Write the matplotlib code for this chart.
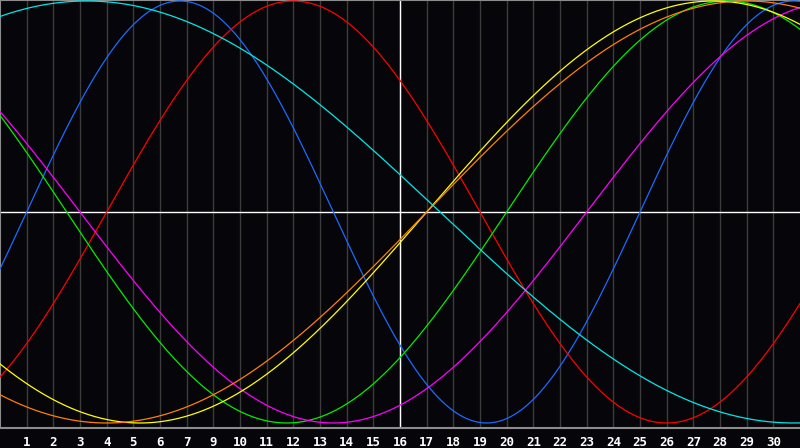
import numpy as np
import matplotlib
matplotlib.use("Agg")
import matplotlib.pyplot as plt

# biorhythm cycles: period in days and position in cycle at the left edge
cycles = ["physical", "emotional", "intellectual", "intuitive", "aesthetic", "awareness", "spiritual"]
periods = [23, 28, 33, 38, 43, 48, 53]
offsets = [22, 24, 14, 16, 27, 32, 10]
colors = ["#1a6bff", "#ff0000", "#00ee00", "#ff00ff", "#ffff00", "#ff8000", "#00e8e8"]

n_days = 30
day_labels = [1, 2, 3, 4, 5, 6, 7, 9, 10, 11, 12, 13, 14, 15, 16, 17, 18, 19, 20,
              21, 22, 23, 24, 25, 26, 27, 28, 29, 30]

bg = "#060509"
fig = plt.figure(figsize=(8, 4.48), dpi=100, facecolor=bg)
ax = fig.add_axes([0, 20 / 448, 1, 428 / 448], facecolor=bg)

d = np.linspace(0, n_days, 1200)
ax.set_xlim(0, n_days)
ax.set_ylim(-1.0237, 1.0047)

for i in range(1, n_days):
    ax.axvline(i, color="#3c3c3c", lw=1.0, zorder=1)
ax.axvline(15, color="white", lw=1.0, zorder=2)
ax.axhline(0, color="white", lw=1.0, zorder=2)

for name, p, off, c in zip(cycles, periods, offsets, colors):
    ax.plot(d, np.sin(2 * np.pi * (d + off) / p), color=c, lw=0.9, zorder=3, label=name)

ax.set_xticks(range(1, n_days))
ax.set_xticklabels([str(v) for v in day_labels])
ax.tick_params(axis="x", length=0, pad=6, colors="white", labelsize=9)
for t in ax.get_xticklabels():
    t.set_fontfamily("DejaVu Sans Mono")
    t.set_fontweight("bold")
ax.set_yticks([])

for s in ["left", "top", "bottom"]:
    ax.spines[s].set_color("#8c8c8c")
    ax.spines[s].set_linewidth(1.5)
ax.spines["right"].set_visible(False)

fig.savefig("out.png", dpi=100, facecolor=bg)
